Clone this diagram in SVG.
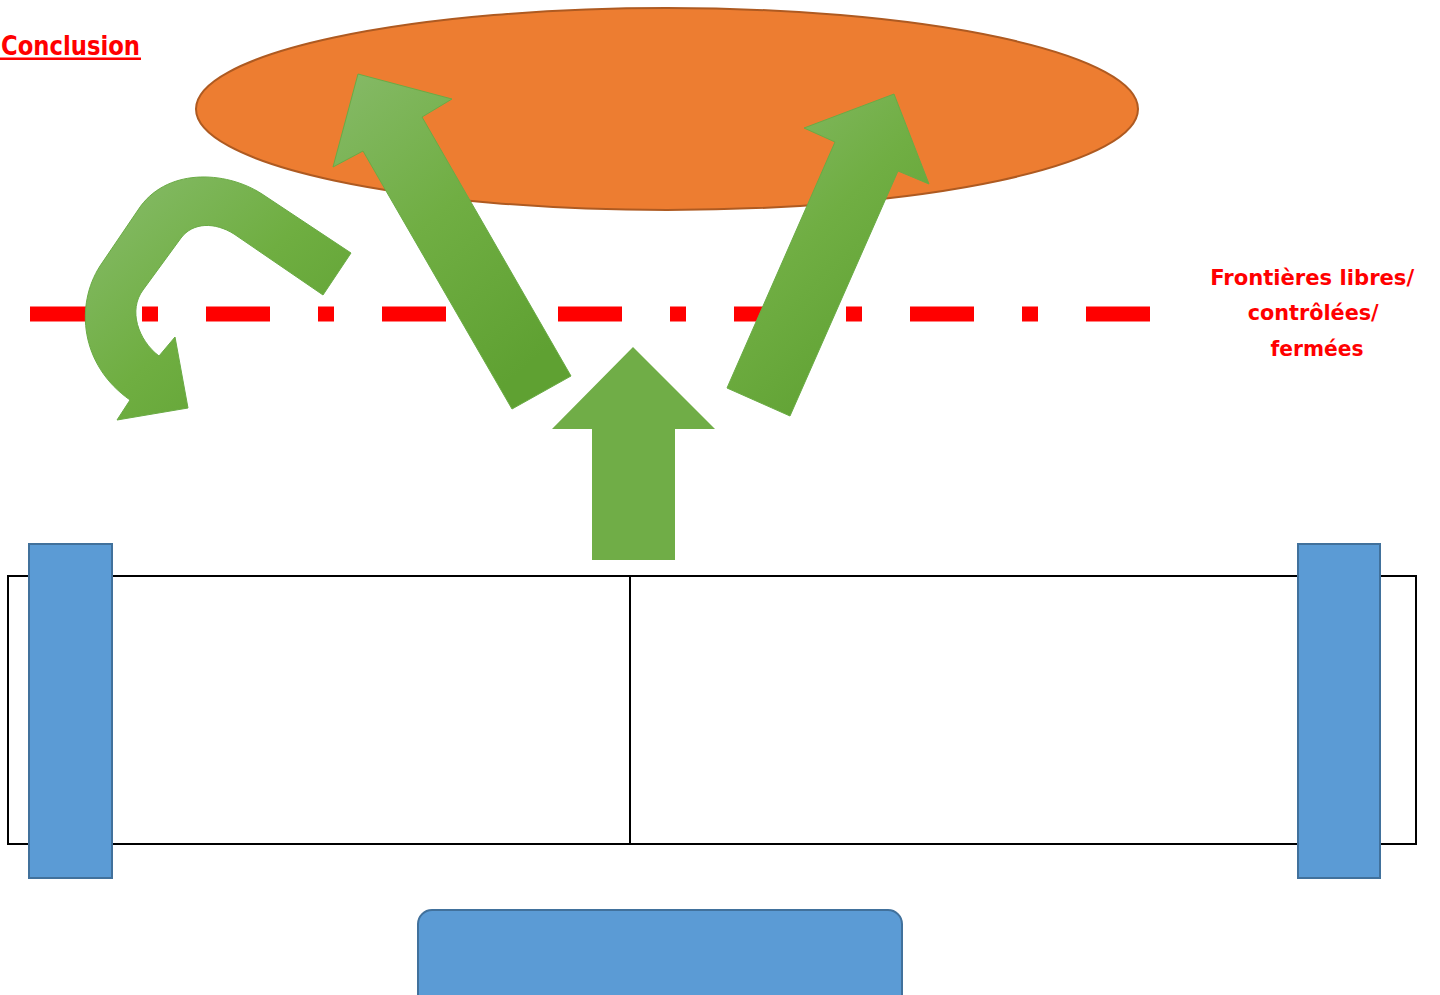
<svg xmlns="http://www.w3.org/2000/svg" width="1440" height="995" viewBox="0 0 1440 995">
<defs>
<linearGradient id="gArrow" x1="0" y1="0" x2="0.6" y2="1">
<stop offset="0" stop-color="#86BA68"/>
<stop offset="0.5" stop-color="#70AE43"/>
<stop offset="1" stop-color="#5FA132"/>
</linearGradient>
<linearGradient id="gCurve" x1="0" y1="0" x2="1" y2="1">
<stop offset="0" stop-color="#88BC6C"/>
<stop offset="0.5" stop-color="#6FAE41"/>
<stop offset="1" stop-color="#5C9F30"/>
</linearGradient>
<style>
.lbl{font-family:"DejaVu Sans","Liberation Sans",Arial,sans-serif;font-weight:bold;fill:#FF0000;}
.blue{fill:#5B9BD5;stroke:#41719C;stroke-width:2;}
.garrow{stroke:#6AAB45;stroke-width:1;}
</style>
</defs>
<rect width="1440" height="995" fill="#FFFFFF"/>

<g id="ellipse">
<ellipse cx="667" cy="109" rx="471" ry="101" fill="#ED7D31" stroke="#AE5A21" stroke-width="2"/>
</g>

<g id="frontier">
<line x1="30" y1="314" x2="1150" y2="314" stroke="#FF0000" stroke-width="15" stroke-dasharray="64 48 16 48"/>
</g>

<g id="main-box">
<rect x="8" y="576" width="1408" height="268" fill="#FFFFFF" stroke="#000000" stroke-width="2"/>
<line x1="630" y1="576" x2="630" y2="844" stroke="#000000" stroke-width="2"/>
</g>

<g id="bar-left"><rect class="blue" x="29" y="544" width="83" height="334"/></g>
<g id="bar-right"><rect class="blue" x="1298" y="544" width="82" height="334"/></g>
<g id="bottom-box"><rect class="blue" x="418" y="910" width="484" height="110" rx="14" ry="14"/></g>

<g id="connectors">
<path id="curved-arrow" class="garrow" fill="url(#gCurve)" d="M 351 253 L 262 194 C 225 170 165 168 138 210 L 100 266 C 75 305 80 365 130 400 L 117 420 L 188 408 L 175 337 L 159 356 C 138 340 128 310 143 290 L 181 238 C 193 222 215 222 234 234 L 323 295 Z"/>
<polygon id="arrow-left" class="garrow" fill="url(#gArrow)" points="512,409 363,151 333,167 358,74 452,99 422,117 571,376"/>
<polygon id="arrow-right" class="garrow" fill="url(#gArrow)" points="727,388 835,142 804,128 894,94 929,184 898,171 790,416"/>
<polygon id="arrow-up" fill="#70AD47" points="633,347 715,429 675,429 675,560 592,560 592,429 552,429"/>
</g>

<g id="title">
<text class="lbl" x="1" y="55" font-size="26" textLength="139" lengthAdjust="spacingAndGlyphs">Conclusion</text>
<rect x="0" y="57.5" width="141" height="2.5" fill="#FF0000"/>
</g>

<g id="frontier-label">
<text class="lbl" font-size="22" text-anchor="middle">
<tspan x="1316" y="285" textLength="204" lengthAdjust="spacingAndGlyphs">Frontières libres/</tspan>
<tspan x="1317" y="320" textLength="131" lengthAdjust="spacingAndGlyphs">contrôlées/</tspan>
<tspan x="1317" y="356" textLength="93" lengthAdjust="spacingAndGlyphs">fermées</tspan>
</text>
</g>
</svg>
